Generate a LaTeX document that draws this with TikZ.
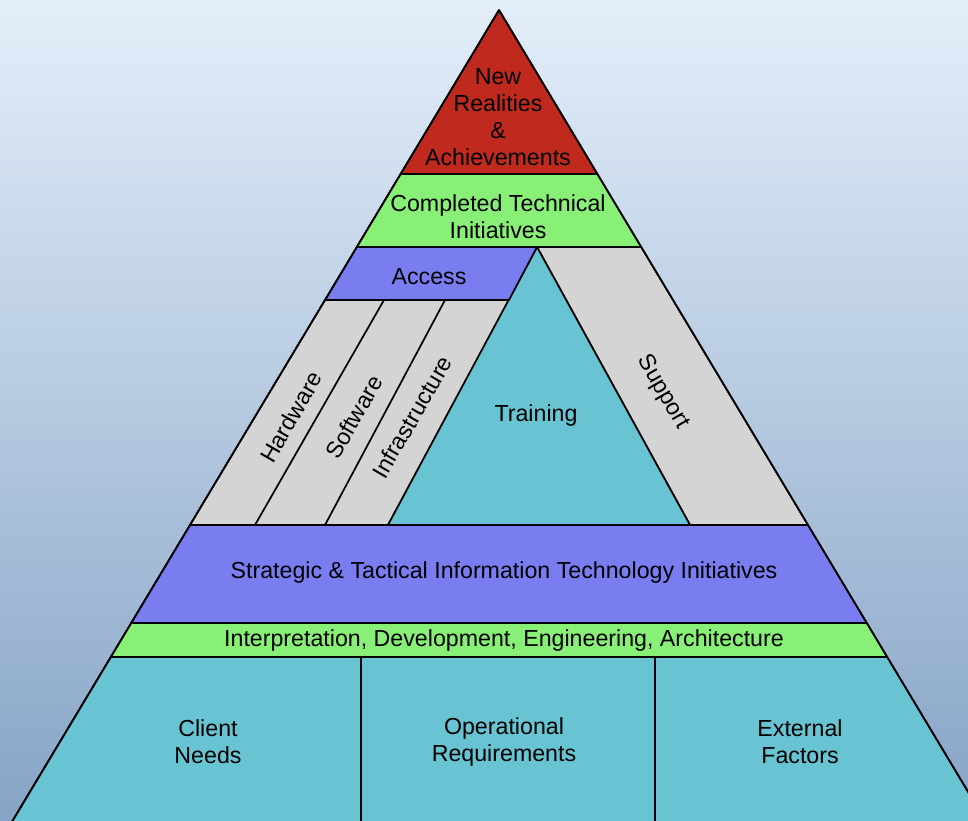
\documentclass[tikz,border=0pt]{standalone}
\usepackage{fontspec}
\setmainfont{Liberation Sans}
\definecolor{bgtop}{RGB}{228,238,250}
\definecolor{bgmid}{RGB}{192,222,246}
\definecolor{bgbot}{RGB}{134,164,198}
\definecolor{topred}{RGB}{192,42,30}
\definecolor{lgreen}{RGB}{136,240,118}
\definecolor{lblue}{RGB}{122,125,240}
\definecolor{lgray}{RGB}{212,212,212}
\definecolor{lteal}{RGB}{104,196,210}
\begin{document}
\begin{tikzpicture}[x=0.5pt,y=-0.5pt,line join=round,
  band/.style={draw=black,line width=0.85pt},
  lbl/.style={font=\fontsize{11.6}{13.5}\selectfont,align=center,inner sep=0pt}]
	\clip (0,0) rectangle (968,820);
	\shade[top color=bgtop,middle color=bgmid,bottom color=bgbot] (0,0) rectangle (968,820);
	%\draw[step=50,very thin,color=gray] (0,0) grid (968,820);
	% base
	\draw[band,fill=lteal] (110.8,657) -- (887.2,657) -- (997,840) -- (1,840) -- cycle;
	\draw[band] (361,657) -- (361,840);
	\draw[band] (655,657) -- (655,840);
	\draw[band,fill=lgreen] (131.2,623) -- (866.8,623) -- (887.2,657) -- (110.8,657) -- cycle;
	\draw[band,fill=lblue] (190,525) -- (808,525) -- (866.8,623) -- (131.2,623) -- cycle;
	% middle section
	\draw[band,fill=lgray] (325,300) -- (509,300) -- (388,525) -- (190,525) -- cycle;
	\draw[band] (384,300) -- (255,525);
	\draw[band] (445,300) -- (325,525);
	\draw[band,fill=lgray] (537,247) -- (641.2,247) -- (808,525) -- (690,525) -- cycle;
	\draw[band,fill=lteal] (537,247) -- (690,525) -- (388,525) -- cycle;
	\draw[band,fill=lblue] (356.8,247) -- (537,247) -- (509,300) -- (325,300) -- cycle;
	% top
	\draw[band,fill=lgreen] (400.6,174) -- (597.4,174) -- (641.2,247) -- (356.8,247) -- cycle;
	\draw[band,fill=topred] (499,10) -- (597.4,174) -- (400.6,174) -- cycle;
	\draw[band] (499,10) -- (997,840);
	\draw[band] (499,10) -- (1,840);
	% labels
	\node[lbl] (newreal) at (498,117) {New\\Realities\\\&\\Achievements};
	\node[lbl] (completed) at (498,217) {Completed Technical\\Initiatives};
	\node[lbl] (access) at (429,277) {Access};
	\node[lbl,rotate=60] (hardware) at (291,417) {Hardware};
	\node[lbl,rotate=60] (software) at (354,417) {Software};
	\node[lbl,rotate=60] (infra) at (412,417) {Infrastructure};
	\node[lbl] (training) at (536,415) {Training};
	\node[lbl,rotate=-60] (support) at (663,392) {Support};
	\node[lbl] (strategic) at (504,572) {Strategic \& Tactical Information Technology Initiatives};
	\node[lbl] (interp) at (504,640) {Interpretation, Development, Engineering, Architecture};
	\node[lbl] (client) at (208,742) {Client\\Needs};
	\node[lbl] (oper) at (504,742) {Operational\\Requirements};
	\node[lbl] (extern) at (800,742) {External\\Factors};
\end{tikzpicture}
\end{document}
